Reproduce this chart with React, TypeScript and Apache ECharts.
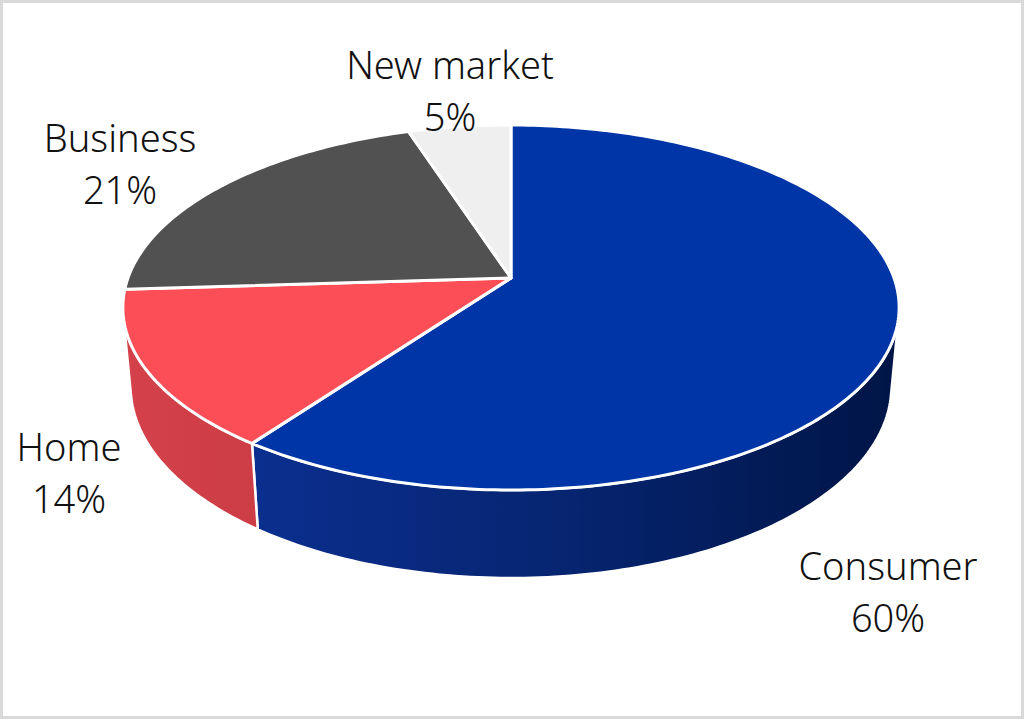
import { useEffect, useRef } from "react";
import * as echarts from "echarts";

// ---- data ----
const categories = ["Consumer", "Home", "Business", "New market"];
const values = [60, 14, 21, 5];

// ---- styles ----
const topColors = ["#0035A8", "#FC4E57", "#515151", "#EFEFEF"];
const wallStops = [
  [
    [0, "#0B2F8F"],
    [0.5, "#06246F"],
    [1, "#001546"],
  ],
  [
    [0, "#D4414A"],
    [1, "#CC3D46"],
  ],
  [
    [0, "#3A3A3A"],
    [1, "#3A3A3A"],
  ],
  [
    [0, "#CFCFCF"],
    [1, "#CFCFCF"],
  ],
];
// label block centres (layout)
const labelPos = [
  [888, 591],
  [69, 472],
  [120, 163],
  [450, 90],
];

// ---- projection of the 3D disk ----
const CX = 511;
const CY = 278;
const FOCAL = 2099;
const DIST = 5.48;
const SA = 0.464;
const CA = 0.886;
const THICK = 0.235;
const Z_VIS = 1 / (DIST * CA);

function proj(X: number, Y: number, Z: number): number[] {
  const depth = DIST - Y * SA - Z * CA;
  return [CX + (FOCAL * X) / depth, CY - (FOCAL * (Y * CA - Z * SA)) / depth];
}
function rim(tDeg: number, Y: number): number[] {
  const t = (tDeg * Math.PI) / 180;
  return proj(Math.sin(t), Y, -Math.cos(t));
}
function arc(t1: number, t2: number, Y: number): number[][] {
  const n = Math.max(2, Math.ceil(Math.abs(t2 - t1)));
  const pts: number[][] = [];
  for (let i = 0; i <= n; i++) pts.push(rim(t1 + ((t2 - t1) * i) / n, Y));
  return pts;
}

const total = values.reduce((a, b) => a + b, 0);
const starts = values.map((_, i) => values.slice(0, i).reduce((a, b) => a + b, 0));
const seriesData = values.map((v, i) => ({ name: categories[i], value: [v, starts[i]] }));

const visA = (Math.acos(-Z_VIS) * 180) / Math.PI;
const visB = 360 - visA;

export default function App() {
  const ref = useRef<HTMLDivElement>(null);
  useEffect(() => {
    if (!ref.current) return;
    const chart = echarts.init(ref.current, undefined, { renderer: "svg" });
    const option: any = {
      animation: false,
      backgroundColor: "#ffffff",
      graphic: [
        {
          type: "rect",
          shape: { x: 1.5, y: 1.5, width: 1021, height: 716 },
          style: { fill: "transparent", stroke: "#D9D9D9", lineWidth: 3 },
          silent: true,
        },
      ],
      series: [
        {
          type: "custom",
          coordinateSystem: "none",
          z: 1,
          data: seriesData,
          renderItem: (params: any, api: any) => {
            const v = api.value(0);
            const s = api.value(1);
            const t1 = (s / total) * 360;
            const t2 = ((s + v) / total) * 360;
            const w1 = Math.max(t1, visA);
            const w2 = Math.min(t2, visB);
            if (w2 <= w1) return { type: "group", children: [] };
            const pts = arc(w1, w2, 0).concat(arc(w2, w1, -THICK));
            const stops = wallStops[params.dataIndex].map((c: any) => ({ offset: c[0], color: c[1] }));
            return {
              type: "polygon",
              shape: { points: pts },
              style: {
                fill: new echarts.graphic.LinearGradient(0, 0, 1, 0, stops),
                stroke: "#ffffff",
                lineWidth: 2.5,
                lineJoin: "round",
              },
            };
          },
        },
        {
          type: "custom",
          coordinateSystem: "none",
          z: 2,
          data: seriesData,
          renderItem: (params: any, api: any) => {
            const v = api.value(0);
            const s = api.value(1);
            const t1 = (s / total) * 360;
            const t2 = ((s + v) / total) * 360;
            const pts = [proj(0, 0, 0)].concat(arc(t1, t2, 0));
            const i = params.dataIndex;
            const pct = Math.round((v / total) * 100);
            return {
              type: "group",
              children: [
                {
                  type: "polygon",
                  shape: { points: pts },
                  style: {
                    fill: topColors[i],
                    stroke: "#ffffff",
                    lineWidth: 3,
                    lineJoin: "round",
                  },
                },
                {
                  type: "text",
                  x: labelPos[i][0],
                  y: labelPos[i][1],
                  style: {
                    text: categories[i] + "\n" + pct + "%",
                    fontFamily: "Noto Sans",
                    fontWeight: 300,
                    fontSize: 38,
                    lineHeight: 52,
                    fill: "#111111",
                    align: "center",
                    verticalAlign: "middle",
                  },
                },
              ],
            };
          },
        },
      ],
    };
    chart.setOption(option);
    return () => chart.dispose();
  }, []);
  return (
    <div
      ref={ref}
      style={{ position: "absolute", left: 0, top: 0, width: 1024, height: 719, background: "#fff" }}
    />
  );
}
